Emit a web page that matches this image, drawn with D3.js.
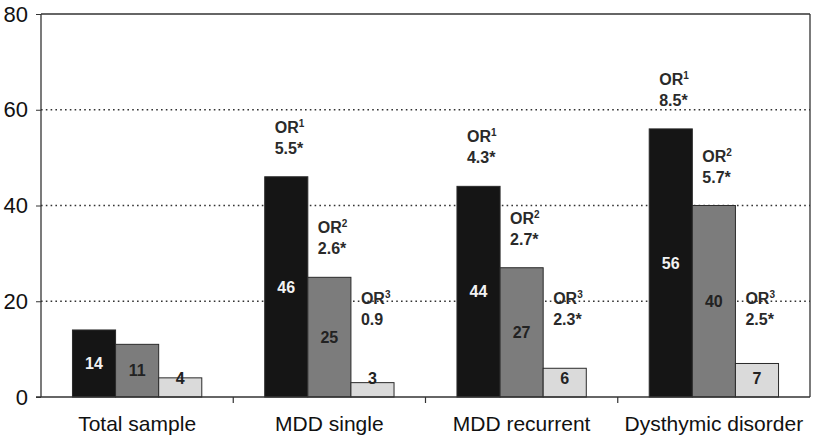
<!DOCTYPE html>
<html><head><meta charset="utf-8">
<script src="https://cdn.jsdelivr.net/npm/d3@7"></script>
<style>
html,body{margin:0;padding:0;background:#fff;}
svg{display:block;font-family:Arial,"Liberation Sans",Helvetica,sans-serif;}
</style></head>
<body><svg id="c" width="814" height="438"></svg>
<script>
const categories = ["Total sample", "MDD single", "MDD recurrent", "Dysthymic disorder"];
const series1 = [14, 46, 44, 56];
const series2 = [11, 25, 27, 40];
const series3 = [4, 3, 6, 7];
const or1 = [null, "5.5*", "4.3*", "8.5*"];
const or2 = [null, "2.6*", "2.7*", "5.7*"];
const or3 = [null, "0.9", "2.3*", "2.5*"];
const yTicks = [0, 20, 40, 60, 80];

const svg = d3.select("#c");
const m = {l: 41, r: 4, t: 14, b: 41};
const W = 814, H = 438;
const x0 = m.l, x1 = W - m.r, yb = H - m.b, yt = m.t;

const x = d3.scaleBand().domain(categories).range([x0, x1]).paddingInner(0).paddingOuter(0);
const inner = d3.scaleBand().domain([0,1,2]).range([0, x.bandwidth()]).paddingOuter(0.73).paddingInner(0);
const y = d3.scaleLinear().domain([0, 80]).range([yb, yt]);

// gridlines
svg.append("g").selectAll("line").data(yTicks.filter(d => d > 0 && d < 80)).join("line")
  .attr("x1", x0).attr("x2", x1).attr("y1", d => y(d)).attr("y2", d => y(d))
  .attr("stroke", "#333").attr("stroke-width", 1.6).attr("stroke-dasharray", "1.6,3.2");
// top & right border
svg.append("line").attr("x1", x0).attr("x2", x1).attr("y1", y(80)).attr("y2", y(80))
  .attr("stroke", "#333").attr("stroke-width", 1.3);
svg.append("line").attr("x1", x1).attr("x2", x1).attr("y1", y(80)).attr("y2", yb)
  .attr("stroke", "#333").attr("stroke-width", 1.3);

const fills = ["#151515", "#7c7c7c", "#dadada"];
const seriesAll = [series1, series2, series3];
const ors = [or1, or2, or3];

const groups = svg.append("g").selectAll("g").data(categories).join("g")
  .attr("transform", d => `translate(${x(d)},0)`);

seriesAll.forEach((s, si) => {
  groups.append("rect")
    .attr("x", inner(si)).attr("width", inner.bandwidth())
    .attr("y", (d, i) => y(s[i])).attr("height", (d, i) => yb - y(s[i]))
    .attr("fill", fills[si]).attr("stroke", "#2a2a2a").attr("stroke-width", 1);
  groups.append("text")
    .attr("x", inner(si) + inner.bandwidth() / 2)
    .attr("y", (d, i) => Math.min((y(s[i]) + yb) / 2, yb - 19))
    .attr("dy", "0.36em")
    .attr("text-anchor", "middle")
    .attr("font-size", 16).attr("font-weight", "bold")
    .attr("fill", si === 0 ? "#f2f2f2" : "#222")
    .text((d, i) => s[i]);
  // OR labels
  const orv = ors[si];
  const lab = groups.filter((d, i) => orv[i] !== null).append("text")
    .attr("font-size", 16).attr("font-weight", "bold").attr("fill", "#2a2a2a");
  const baseY = (i) => Math.min(y(s[i]) - 23, y(15));
  lab.each(function(d) {
    const i = categories.indexOf(d);
    const t = d3.select(this);
    const lx = inner(si) + 10;
    t.append("tspan").attr("x", lx).attr("y", baseY(i) - 21).text("OR");
    t.append("tspan").attr("dy", -6).attr("font-size", 10).text(si + 1);
    t.append("tspan").attr("x", lx).attr("y", baseY(i)).text(orv[i]);
  });
});

// y axis
const yAxis = svg.append("g").attr("transform", `translate(${x0},0)`)
  .call(d3.axisLeft(y).tickValues(yTicks).tickSize(5).tickPadding(8));
yAxis.select(".domain").attr("stroke", "#333").attr("stroke-width", 1.3).attr("d", `M0,${yt}V${yb}`);
yAxis.selectAll(".tick line").attr("stroke", "#333");
yAxis.selectAll(".tick text").attr("font-size", 22).attr("fill", "#111").attr("font-family", "Arial,'Liberation Sans',sans-serif");

// x axis
svg.append("line").attr("x1", x0 - 5).attr("x2", x1).attr("y1", yb).attr("y2", yb)
  .attr("stroke", "#333").attr("stroke-width", 1.3);
svg.append("g").selectAll("line").data(categories.slice(1)).join("line")
  .attr("x1", d => x(d)).attr("x2", d => x(d)).attr("y1", yb).attr("y2", yb + 6)
  .attr("stroke", "#333").attr("stroke-width", 1.2);
svg.append("g").selectAll("text").data(categories).join("text")
  .attr("x", d => x(d) + x.bandwidth() / 2).attr("y", yb + 34)
  .attr("text-anchor", "middle").attr("font-size", 21).attr("fill", "#111")
  .text(d => d);
</script></body></html>
